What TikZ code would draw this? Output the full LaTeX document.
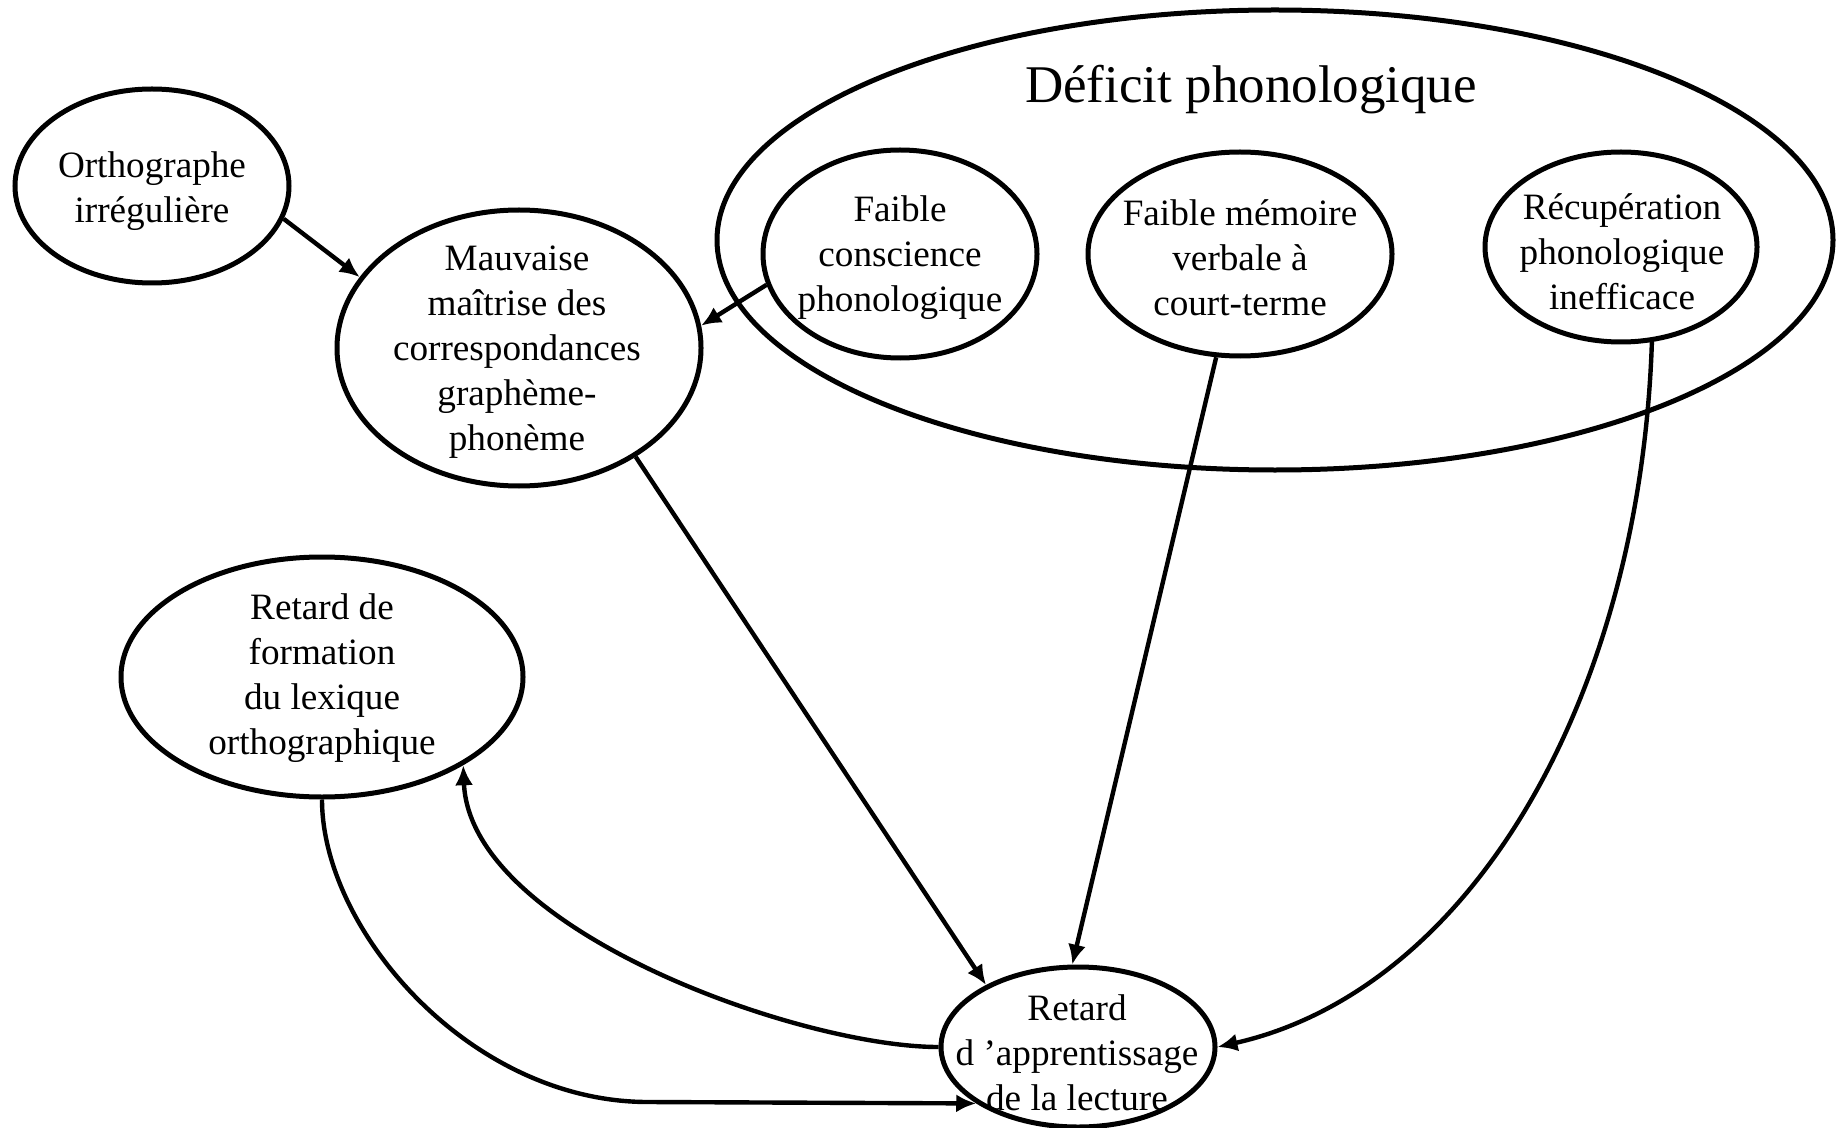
\documentclass[tikz,border=0pt]{standalone}
\usepackage{fontspec}
\setmainfont{Liberation Serif}
\usetikzlibrary{shapes.geometric,arrows.meta}
\begin{document}
\begin{tikzpicture}[x=0.5pt,y=-0.5pt,
  ell/.style={ellipse,draw,line width=2.5pt,inner sep=0pt},
  txt/.style={align=center,inner sep=0pt,font=\fontsize{18.6pt}{22.5pt}\selectfont},
  arr/.style={line width=2.2pt,-{Latex[length=10pt,width=9pt]}},
]
\useasboundingbox (0,0) rectangle (1845,1128);
% ellipses
\node[ell,minimum width=558pt,minimum height=230pt] (deficit) at (1275,240) {};
\node[ell,minimum width=137pt,minimum height=97pt] (ortho) at (152,186) {};
\node[ell,minimum width=182pt,minimum height=138pt] (mauv) at (519,348) {};
\node[ell,minimum width=137pt,minimum height=104pt] (consc) at (900,254) {};
\node[ell,minimum width=152pt,minimum height=102pt] (memo) at (1240,254) {};
\node[ell,minimum width=136pt,minimum height=95pt] (recup) at (1621,247) {};
\node[ell,minimum width=201pt,minimum height=120pt] (forma) at (322,677) {};
\node[ell,minimum width=137pt,minimum height=80pt] (retard) at (1078,1047) {};
% texts
\node[font=\fontsize{26.5pt}{32pt}\selectfont,anchor=base,inner sep=0pt] (tdef) at (1251,103) {Déficit phonologique};
\node[txt] (tortho) at (152,191) {Orthographe\\irrégulière};
\node[txt] (tmauv) at (517,352) {Mauvaise\\maîtrise des\\correspondances\\graphème-\\phonème};
\node[txt] (tconsc) at (900,258) {Faible\\conscience\\phonologique};
\node[txt] (tmemo) at (1240,258) {Faible mémoire\\verbale à\\court-terme};
\node[txt] (trecup) at (1622,252) {Récupération\\phonologique\\inefficace};
\node[txt] (tforma) at (322,678) {Retard de\\formation\\du lexique\\orthographique};
\node[txt] (tretard) at (1077,1053) {Retard\\d ’apprentissage\\de la lecture};
% connectors
\draw[arr] (ortho.-14) -- (mauv.156);
\draw[arr] (consc.-167) -- (mauv.7);
\draw[arr] (mauv.-43) -- (retard.146);
\draw[arr] (memo.-103) -- (retard.94);
\draw[arr] (recup.-72) .. controls (1640,700) and (1470,990) .. (retard.0);
\draw[arr] (retard.180) .. controls (800,1047) and (470,930) .. (forma.-32);
\coordinate (bend) at (648,1102);
\draw[arr] (forma.-90) .. controls (322,930) and (470,1102) .. (bend) -- (retard.-151);
\end{tikzpicture}
\end{document}
